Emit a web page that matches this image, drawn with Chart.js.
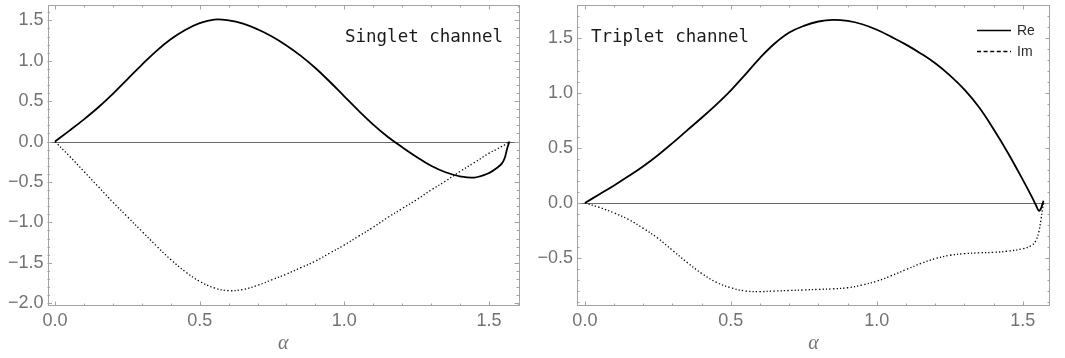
<!DOCTYPE html>
<html>
<head>
<meta charset="utf-8">
<script src="https://cdn.jsdelivr.net/npm/chart.js@4"></script>
<style>
  html, body { margin: 0; padding: 0; background: #fff; }
  body { width: 1065px; height: 358px; position: relative; overflow: hidden; }
  .panel { position: absolute; top: 0; height: 358px; }
  #left { left: 0; width: 525px; }
  #right { left: 525px; width: 540px; }
</style>
</head>
<body>
<div class="panel" id="left"><canvas id="singletChart"></canvas></div>
<div class="panel" id="right"><canvas id="tripletChart"></canvas></div>
<script>
// -------- Data --------
const alphaSinglet = [0, 0.05, 0.10, 0.15, 0.20, 0.25, 0.30, 0.35, 0.40, 0.45, 0.50, 0.55, 0.60, 0.65, 0.70, 0.75,
  0.80, 0.85, 0.90, 0.95, 1.00, 1.05, 1.10, 1.15, 1.20, 1.25, 1.30, 1.35, 1.40, 1.45, 1.50, 1.53, 1.545, 1.555, 1.562, 1.5708];
const reSinglet = [0, 0.135, 0.275, 0.425, 0.59, 0.77, 0.95, 1.12, 1.265, 1.38, 1.465, 1.51, 1.50, 1.46, 1.39, 1.30,
  1.19, 1.06, 0.91, 0.74, 0.56, 0.38, 0.21, 0.06, -0.07, -0.19, -0.30, -0.38, -0.43, -0.445, -0.39, -0.32, -0.27, -0.20, -0.10, 0.0];
const imSinglet = [0, -0.18, -0.37, -0.56, -0.75, -0.93, -1.11, -1.29, -1.46, -1.61, -1.73, -1.81, -1.845, -1.83, -1.78, -1.71,
  -1.64, -1.56, -1.48, -1.38, -1.28, -1.17, -1.06, -0.94, -0.83, -0.72, -0.60, -0.49, -0.37, -0.26, -0.145, -0.09, -0.06, -0.04, -0.02, 0];

const alphaTriplet = [0, 0.05, 0.10, 0.15, 0.20, 0.25, 0.30, 0.35, 0.40, 0.45, 0.50, 0.55, 0.60, 0.65, 0.70, 0.75,
  0.80, 0.85, 0.90, 0.95, 1.00, 1.05, 1.10, 1.15, 1.20, 1.25, 1.30, 1.35, 1.40, 1.45, 1.50, 1.53, 1.545, 1.555, 1.562, 1.567, 1.5708];
const reTriplet = [0, 0.08, 0.16, 0.245, 0.335, 0.435, 0.545, 0.66, 0.775, 0.895, 1.025, 1.17, 1.32, 1.45, 1.55, 1.61,
  1.65, 1.665, 1.655, 1.625, 1.575, 1.51, 1.44, 1.36, 1.27, 1.16, 1.03, 0.87, 0.67, 0.45, 0.21, 0.06, -0.02, -0.07, -0.05, -0.01, 0.02];
const imTriplet = [0, -0.04, -0.09, -0.15, -0.23, -0.32, -0.43, -0.54, -0.64, -0.72, -0.77, -0.80, -0.805, -0.80, -0.795, -0.79,
  -0.785, -0.78, -0.77, -0.745, -0.71, -0.66, -0.605, -0.55, -0.505, -0.475, -0.46, -0.453, -0.448, -0.437, -0.415, -0.385, -0.34, -0.26, -0.15, -0.06, 0];

const xTickValues = [0, 0.5, 1.0, 1.5];
const yTicksSinglet = [-2.0, -1.5, -1.0, -0.5, 0.0, 0.5, 1.0, 1.5];
const yTicksTriplet = [-0.5, 0.0, 0.5, 1.0, 1.5];

const seriesLabels = ['Re', 'Im'];


// -------- Helpers --------
const toPoints = (xs, ys) => xs.map((x, i) => ({ x: x, y: ys[i] }));
const fmt = v => (v < 0 ? '\u2212' : '') + Math.abs(v).toFixed(1);

const frameColor = '#a3a3a3';
const labelColor = '#727272';
const tickFont = { family: '"Liberation Sans", Arial, sans-serif', size: 18 };

// frame with inward ticks on all sides, plus the zero axis
const framePlugin = {
  id: 'frame',
  beforeDatasetsDraw(chart) {
    const { ctx, chartArea: a } = chart;
    const y = chart.scales.y;
    const y0 = Math.round(y.getPixelForValue(0)) + 0.5;
    ctx.save();
    ctx.strokeStyle = '#6a6a6a';
    ctx.lineWidth = 1.1;
    ctx.beginPath();
    ctx.moveTo(a.left, y0);
    ctx.lineTo(a.right, y0);
    ctx.stroke();
    ctx.restore();
  },
  afterDatasetsDraw(chart) {
    const { ctx, chartArea: a } = chart;
    const x = chart.scales.x, y = chart.scales.y;
    ctx.save();
    ctx.strokeStyle = frameColor;
    ctx.lineWidth = 1;
    ctx.strokeRect(Math.round(a.left) + 0.5, Math.round(a.top) + 0.5,
      Math.round(a.right - a.left) - 1, Math.round(a.bottom - a.top) - 1);

    ctx.beginPath();
    for (let k = Math.ceil(x.min * 10); k <= Math.floor(x.max * 10); k++) {
      const px = Math.round(x.getPixelForValue(k / 10)) + 0.5;
      const len = k % 5 === 0 ? 4.5 : 2.5;
      ctx.moveTo(px, a.bottom); ctx.lineTo(px, a.bottom - len);
      ctx.moveTo(px, a.top); ctx.lineTo(px, a.top + len);
    }
    for (let k = Math.ceil(y.min * 10); k <= Math.floor(y.max * 10); k++) {
      const py = Math.round(y.getPixelForValue(k / 10)) + 0.5;
      const len = k % 5 === 0 ? 4.5 : 2.5;
      ctx.moveTo(a.left, py); ctx.lineTo(a.left + len, py);
      ctx.moveTo(a.right, py); ctx.lineTo(a.right - len, py);
    }
    ctx.stroke();
    ctx.restore();
  }
};

// channel name and (optionally) legend inside the plot
const notePlugin = {
  id: 'note',
  afterDraw(chart, args, opts) {
    const { ctx, chartArea: a } = chart;
    ctx.save();
    ctx.font = '17.5px "DejaVu Sans Mono", "Liberation Mono", monospace';
    ctx.fillStyle = '#1a1a1a';
    ctx.textBaseline = 'middle';
    if (opts.align === 'right') {
      ctx.textAlign = 'right';
      ctx.fillText(opts.text, a.right - 16, 37);
    } else {
      ctx.textAlign = 'left';
      ctx.fillText(opts.text, a.left + 14, 37);
    }

    if (opts.legend) {
      const ds = chart.data.datasets;
      const x1 = a.right - 73, x2 = a.right - 39;
      const rows = [30, 51];
      ctx.font = '14px "Liberation Sans", Arial, sans-serif';
      ctx.textAlign = 'left';
      ds.forEach((d, i) => {
        ctx.strokeStyle = '#000';
        ctx.lineWidth = 1.6;
        ctx.setLineDash(i === 0 ? [] : [4, 2.6]);
        ctx.beginPath();
        ctx.moveTo(x1, rows[i] + 0.5);
        ctx.lineTo(x2, rows[i] + 0.5);
        ctx.stroke();
        ctx.setLineDash([]);
        ctx.fillStyle = '#2a2a2a';
        ctx.fillText(d.label, x2 + 6, rows[i] + 1);
      });
    }
    ctx.restore();
  }
};


// -------- Chart builder --------
function makeChart(canvasId, xs, re, im, yTicks, xRange, yRange, rightPad, leftWidth, note) {

  const ctx = document.getElementById(canvasId).getContext('2d');

  return new Chart(ctx, {
    type: 'line',
    data: {
      datasets: [
        {
          label: seriesLabels[0],
          data: toPoints(xs, re),
          borderColor: '#000',
          borderWidth: 1.8,
          pointRadius: 0,
          tension: 0.4
        },
        {
          label: seriesLabels[1],
          data: toPoints(xs, im),
          borderColor: '#000',
          borderWidth: 1.3,
          borderDash: [1.3, 2.2],
          pointRadius: 0,
          tension: 0.4
        }
      ]
    },
    options: {
      responsive: true,
      maintainAspectRatio: false,
      animation: false,
      layout: { padding: { top: 5, right: rightPad, bottom: 0, left: 0 } },
      plugins: {
        legend: { display: false },
        tooltip: { enabled: false },
        note: note
      },
      scales: {
        x: {
          type: 'linear',
          min: xRange[0],
          max: xRange[1],
          grid: { display: false, drawTicks: false },
          border: { display: false },
          afterBuildTicks: s => { s.ticks = xTickValues.map(v => ({ value: v })); },
          afterFit: s => { s.height = 52; s.paddingLeft = 0; s.paddingRight = 0; },
          ticks: {
            color: labelColor,
            padding: 4,
            maxRotation: 0,
            font: tickFont,
            callback: v => fmt(v)
          },
          title: {
            display: true,
            text: '\u03b1',
            color: labelColor,
            padding: { top: 0, bottom: 2 },
            font: { family: '"Liberation Serif", "DejaVu Serif", serif', size: 20, style: 'italic' }
          }
        },
        y: {
          min: yRange[0],
          max: yRange[1],
          grid: { display: false, drawTicks: false },
          border: { display: false },
          afterBuildTicks: s => { s.ticks = yTicks.map(v => ({ value: v })); },
          afterFit: s => { s.width = leftWidth; s.paddingTop = 0; s.paddingBottom = 0; },
          ticks: {
            color: labelColor,
            padding: 4,
            font: tickFont,
            callback: v => fmt(v)
          }
        }
      }
    },
    plugins: [framePlugin, notePlugin]
  });
}


// -------- Init --------
makeChart('singletChart', alphaSinglet, reSinglet, imSinglet, yTicksSinglet,
  [-0.026, 1.604], [-2.035, 1.69], 6, 47.5, { text: 'Singlet channel', align: 'right' });

makeChart('tripletChart', alphaTriplet, reTriplet, imTriplet, yTicksTriplet,
  [-0.027, 1.593], [-0.936, 1.80], 15, 52, { text: 'Triplet channel', align: 'left', legend: true });
</script>
</body>
</html>
